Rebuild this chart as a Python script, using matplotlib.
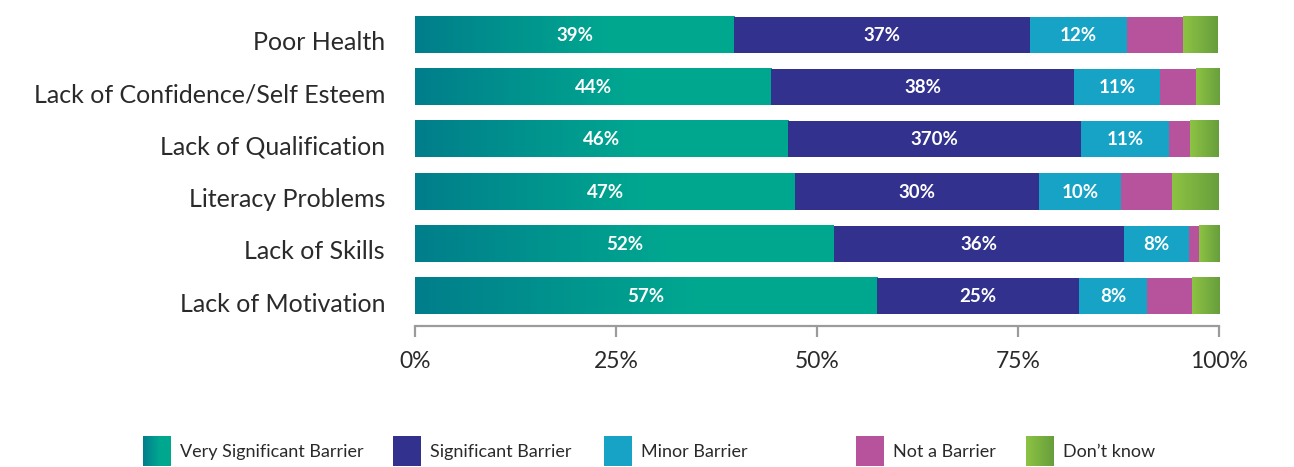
import numpy as np
import matplotlib
matplotlib.use("Agg")
import matplotlib.pyplot as plt
import matplotlib.transforms as mtransforms
from matplotlib.colors import LinearSegmentedColormap

# ---------------- data ----------------
categories = ["Poor Health", "Lack of Confidence/Self Esteem", "Lack of Qualification",
              "Literacy Problems", "Lack of Skills", "Lack of Motivation"]
series_names = ["Very Significant Barrier", "Significant Barrier", "Minor Barrier",
                "Not a Barrier", "Don\u2019t know"]
very_sig = [39.7, 44.3, 46.4, 47.3, 52.1, 57.5]
sig = [36.8, 37.7, 36.4, 30.3, 36.1, 25.1]
minor = [12.1, 10.6, 11.0, 10.2, 8.1, 8.5]
not_barrier = [6.9, 4.5, 2.6, 6.4, 1.2, 5.5]
dont_know = [4.3, 3.0, 3.6, 5.9, 2.5, 3.4]
very_sig_labels = ["39%", "44%", "46%", "47%", "52%", "57%"]
sig_labels = ["37%", "38%", "370%", "30%", "36%", "25%"]
minor_labels = ["12%", "11%", "11%", "10%", "8%", "8%"]
xticks = [0, 25, 50, 75, 100]
xtick_labels = ["0%", "25%", "50%", "75%", "100%"]

# ---------------- style ----------------
FONT = "Lato"
TXT = "#2a2a2a"
teal_cmap = LinearSegmentedColormap.from_list("teal", [(0, "#007E8B"), (0.6, "#00A790"), (1, "#00A88F")])
green_cmap = LinearSegmentedColormap.from_list("green", ["#8DC343", "#679E3C"])
solid = {1: "#33318E", 2: "#16A3C6", 3: "#B7529C"}

W, H = 1294, 467
fig = plt.figure(figsize=(W / 100, H / 100), dpi=100)
ax_left, ax_right = 415 / W, 1219 / W
ax_top, ax_bot = 1 - 10 / H, 1 - 326 / H
ax = fig.add_axes([ax_left, ax_bot, ax_right - ax_left, ax_top - ax_bot])

n = len(categories)
ypos = np.arange(n)[::-1]  # first category on top
bar_h = 0.69

grad = np.linspace(0, 1, 256).reshape(1, -1)
series = [very_sig, sig, minor, not_barrier, dont_know]
for i in range(n):
    left = 0.0
    for s_idx, vals in enumerate(series):
        w = vals[i]
        y0, y1 = ypos[i] - bar_h / 2, ypos[i] + bar_h / 2
        if s_idx == 0:
            ax.imshow(grad, cmap=teal_cmap, extent=[left, left + w, y0, y1],
                      aspect="auto", interpolation="bilinear", zorder=2)
        elif s_idx == 4:
            ax.imshow(grad, cmap=green_cmap, extent=[left, left + w, y0, y1],
                      aspect="auto", interpolation="bilinear", zorder=2)
        else:
            ax.barh(ypos[i], w, left=left, height=bar_h, color=solid[s_idx],
                    linewidth=0, zorder=2)
        left += w

# value labels
for i in range(n):
    lefts = [0, very_sig[i], very_sig[i] + sig[i]]
    widths = [very_sig[i], sig[i], minor[i]]
    labs = [very_sig_labels[i], sig_labels[i], minor_labels[i]]
    for l, w, t in zip(lefts, widths, labs):
        ax.text(l + w / 2, ypos[i] - 0.01, t, ha="center", va="center", color="white",
                fontsize=13.5, fontweight="bold", family=FONT, zorder=3)

ax.set_xlim(0, 100)
ax.set_ylim(-0.57, n - 1 + 0.47)
ax.set_yticks(ypos)
ax.set_yticklabels(categories, fontsize=18, color=TXT, family=FONT)
ax.tick_params(axis="y", length=0, pad=21.6)
offset = mtransforms.ScaledTranslation(0, -6 / 100, fig.dpi_scale_trans)
for lab in ax.get_yticklabels():
    lab.set_transform(lab.get_transform() + offset)
ax.set_xticks(xticks)
ax.set_xticklabels(xtick_labels, fontsize=16.5, color=TXT, family=FONT)
ax.tick_params(axis="x", length=8, width=1.6, color="#9B9B9B", pad=10, direction="out")
for sp in ["top", "right", "left"]:
    ax.spines[sp].set_visible(False)
ax.spines["bottom"].set_color("#9B9B9B")
ax.spines["bottom"].set_linewidth(1.6)
ax.spines["bottom"].set_bounds(0, 100)

# ---------------- legend ----------------
patch_x = [143, 393, 604, 856, 1026]
patch_w, patch_h = 28, 30
patch_y = 436
for k, name in enumerate(series_names):
    lax = fig.add_axes([patch_x[k] / W, 1 - (patch_y + patch_h) / H, patch_w / W, patch_h / H])
    lax.set_axis_off()
    if k == 0:
        lax.imshow(grad, cmap=teal_cmap, aspect="auto", extent=[0, 1, 0, 1])
    elif k == 4:
        lax.imshow(grad, cmap=green_cmap, aspect="auto", extent=[0, 1, 0, 1])
    else:
        lax.add_patch(plt.Rectangle((0, 0), 1, 1, color=solid[k]))
    lax.set_xlim(0, 1)
    lax.set_ylim(0, 1)
    fig.text((patch_x[k] + patch_w + 9) / W, 1 - 452 / H, name, ha="left", va="center",
             fontsize=13, color=TXT, family=FONT)

fig.savefig("out.png", dpi=100)
